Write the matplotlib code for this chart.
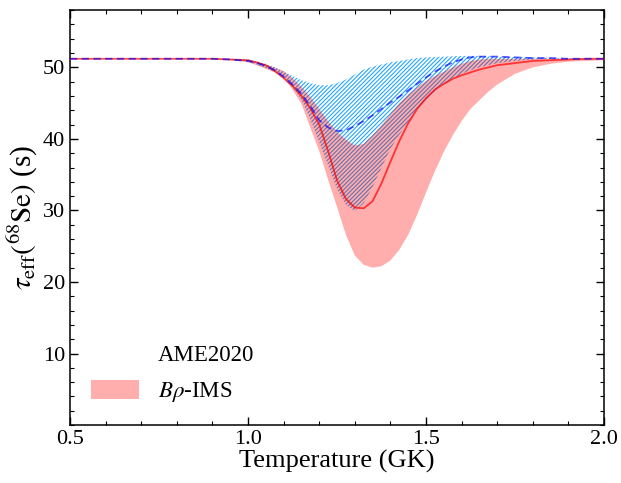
import matplotlib
matplotlib.use("Agg")
import matplotlib.pyplot as plt
from matplotlib.patches import Patch
from matplotlib.ticker import MultipleLocator

# Temperature grid (GK)
T = [0.5, 0.6, 0.7, 0.8, 0.85, 0.9, 0.95, 1.0, 1.025, 1.05, 1.075, 1.1, 1.125,
     1.15, 1.175, 1.2, 1.225, 1.25, 1.275, 1.3, 1.325, 1.35, 1.375, 1.4, 1.425,
     1.45, 1.475, 1.5, 1.525, 1.55, 1.575, 1.6, 1.625, 1.65, 1.675, 1.7, 1.75,
     1.8, 1.85, 1.9, 1.95, 2.0]

# B rho-IMS (red)
ims_mid = [51.2, 51.2, 51.2, 51.2, 51.2, 51.2, 51.1, 51.0, 50.7, 50.3, 49.5, 48.5, 47.4,
           46.0, 44.3, 42.0, 38.3, 34.2, 31.6, 30.4, 30.3, 31.3, 33.8, 36.8, 39.7,
           42.2, 44.2, 45.7, 46.9, 47.7, 48.4, 48.9, 49.3, 49.7, 50.0, 50.3, 50.6,
           50.9, 51.0, 51.1, 51.2, 51.2]
ims_low = [51.2, 51.2, 51.2, 51.2, 51.2, 51.2, 51.05, 50.7, 50.3, 49.8, 49.3, 48.6, 46.9,
           44.9, 41.6, 38.3, 34.3, 30.5, 26.6, 23.7, 22.4, 22.0, 22.2, 23.0, 24.5,
           26.6, 29.4, 32.5, 35.5, 38.2, 40.5, 42.5, 44.2, 45.4, 46.6, 47.6, 49.1,
           50.0, 50.5, 50.8, 50.9, 51.0]
ims_up = [51.2, 51.2, 51.2, 51.2, 51.2, 51.2, 51.15, 51.0, 50.7, 50.4, 50.0, 49.5, 48.5,
          47.3, 45.9, 44.2, 42.5, 41.0, 39.9, 39.1, 39.3, 40.5, 41.9, 43.5, 45.0,
          46.2, 47.2, 48.1, 48.8, 49.4, 50.0, 50.5, 50.9, 51.1, 51.2, 51.2, 51.2,
          51.2, 51.2, 51.2, 51.2, 51.2]

# AME2020 (blue)
ame_mid = [51.2, 51.2, 51.2, 51.2, 51.2, 51.2, 51.1, 50.9, 50.6, 50.2, 49.6, 48.7, 47.6,
           46.3, 44.6, 42.6, 41.6, 41.1, 41.2, 41.8, 42.5, 43.3, 44.2, 45.1, 45.9,
           46.8, 47.7, 48.6, 49.4, 50.1, 50.7, 51.1, 51.4, 51.5, 51.5, 51.5, 51.4,
           51.3, 51.3, 51.2, 51.2, 51.2]
ame_low = [51.2, 51.2, 51.2, 51.2, 51.2, 51.2, 51.1, 50.8, 50.4, 49.9, 49.4, 48.7, 47.3,
           45.5, 42.8, 39.6, 36.3, 33.0, 30.8, 29.9, 31.0, 33.3, 36.0, 38.6, 40.6,
           42.4, 44.0, 45.4, 46.6, 47.6, 48.4, 49.1, 49.6, 50.0, 50.3, 50.6, 50.9,
           51.1, 51.2, 51.2, 51.2, 51.2]
ame_up = [51.2, 51.2, 51.2, 51.2, 51.2, 51.2, 51.2, 51.1, 50.8, 50.5, 50.0, 49.4, 48.8,
          48.2, 47.8, 47.5, 47.5, 47.8, 48.3, 49.0, 49.7, 50.1, 50.4, 50.7, 50.9,
          51.1, 51.3, 51.4, 51.45, 51.5, 51.55, 51.6, 51.6, 51.6, 51.55, 51.5, 51.45,
          51.4, 51.35, 51.3, 51.25, 51.2]

y_ticks = [10, 20, 30, 40, 50]
x_ticks = [0.5, 1.0, 1.5, 2.0]

plt.rcParams['font.family'] = ['Liberation Serif', 'DejaVu Serif']
plt.rcParams['mathtext.fontset'] = 'stix'
plt.rcParams['hatch.linewidth'] = 0.8

fig = plt.figure(figsize=(6.21, 4.83), dpi=100)
ax = fig.add_axes([0.1127, 0.120, 0.860, 0.859])

pink = (1.0, 0.0, 0.0, 0.32)
ax.fill_between(T, ame_low, ame_up, facecolor='none', edgecolor='#22a6ff',
                hatch='////////', linewidth=0, zorder=1)
ax.fill_between(T, ims_low, ims_up, facecolor=pink, edgecolor='none', zorder=2)
ax.plot(T, ims_mid, color=(1.0, 0.0, 0.0, 0.7), lw=1.3, zorder=3)
ax.plot(T, ame_mid, color=(0.0, 0.0, 1.0, 0.65), lw=1.3, ls=(0, (4, 2.5)), zorder=4)

ax.set_xlim(0.5, 2.0)
ax.set_ylim(0, 58)
ax.set_xticks(x_ticks)
ax.set_yticks(y_ticks)
ax.xaxis.set_minor_locator(MultipleLocator(0.1))
ax.yaxis.set_minor_locator(MultipleLocator(2))
ax.tick_params(which='both', direction='in', top=True, right=True, labelsize=16)
ax.tick_params(which='major', length=6, width=1)
ax.tick_params(which='minor', length=3, width=0.8)
for s in ax.spines.values():
    s.set_linewidth(1.1)

ax.set_xlabel('Temperature (GK)', fontsize=19, labelpad=1)
ax.set_ylabel(r'$\tau_{\rm eff}(^{68}{\rm Se})$ (s)', fontsize=21, labelpad=2)

handles = [Patch(facecolor='none', edgecolor='none', label='AME2020'),
           Patch(facecolor=pink, edgecolor='none', label=r'$B\rho$-IMS')]
ax.legend(handles=handles, loc='lower left', bbox_to_anchor=(0.0, 0.0),
          frameon=False, fontsize=16.5, handlelength=2.1, handleheight=0.9,
          labelspacing=0.6, handletextpad=0.85)

fig.savefig('out.png', dpi=100)
